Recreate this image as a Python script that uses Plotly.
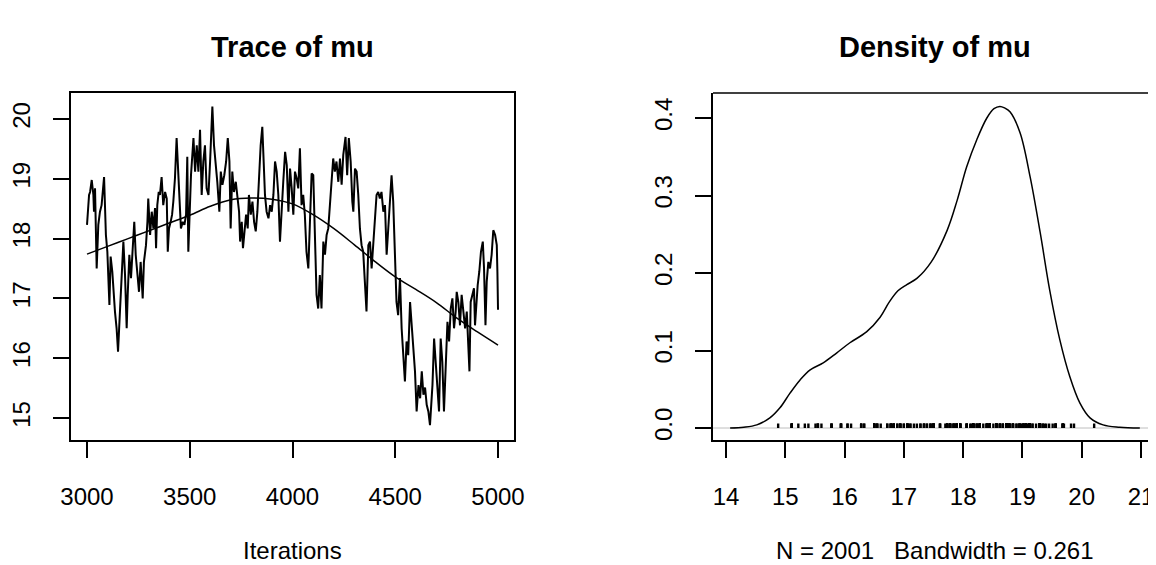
import plotly.graph_objects as go

# ---- Trace of mu ----
iterations = [
    3000, 3010, 3015, 3023, 3031, 3034, 3039, 3047, 3055, 3063, 3071, 3083, 3092, 3099, 3109, 3115,
    3123, 3130, 3136, 3144, 3151, 3161, 3169, 3177, 3185, 3193, 3198, 3206, 3214, 3222, 3230, 3237,
    3247, 3253, 3261, 3271, 3277, 3287, 3294, 3298, 3307, 3315, 3323, 3331, 3336, 3342, 3349, 3355,
    3363, 3371, 3380, 3388, 3393, 3399, 3407, 3414, 3420, 3428, 3436, 3443, 3449, 3457, 3466, 3474,
    3482, 3488,
    3493, 3506, 3518, 3526, 3534, 3542, 3550, 3558, 3566, 3574, 3582, 3591, 3599, 3610, 3618, 3626,
    3634, 3644, 3651, 3659, 3668, 3677, 3685, 3693, 3699, 3707, 3715, 3724, 3732, 3740, 3745, 3753,
    3759, 3766, 3774, 3782, 3788, 3797, 3805, 3813, 3821, 3829, 3837, 3845, 3853, 3860, 3866, 3874,
    3883, 3891, 3899, 3907, 3915, 3923, 3931, 3939, 3947, 3955, 3964, 3972, 3980, 3988, 3996, 4004,
    4012, 4020, 4028,
    4036, 4044, 4052, 4060, 4068, 4077, 4085, 4093, 4101, 4109, 4117, 4125, 4133, 4141, 4150, 4158,
    4166, 4174, 4182, 4190, 4198, 4206, 4214, 4223, 4231, 4239, 4247, 4258, 4266, 4274, 4283, 4291,
    4296, 4304, 4312, 4320, 4328, 4336, 4344, 4352, 4360, 4369, 4377, 4385, 4393, 4401, 4409, 4417,
    4425, 4433, 4442, 4450, 4458, 4466, 4474, 4482, 4490, 4498, 4506, 4514, 4523, 4531, 4539, 4547,
    4555, 4563,
    4572, 4580, 4588, 4596, 4604, 4613, 4621, 4629, 4637, 4645, 4653, 4661, 4669, 4674, 4681, 4689,
    4697, 4705, 4713, 4721, 4729, 4737, 4746, 4754, 4762, 4770, 4778, 4786, 4794, 4799, 4807, 4815,
    4823, 4832, 4840, 4848, 4856, 4861, 4867, 4875, 4883, 4888, 4893, 4901, 4909, 4917, 4926, 4932,
    4939, 4945, 4953, 4961, 4969, 4977, 4986, 4994, 4997, 5000,
]
mu = [
    18.23, 18.73, 18.78, 18.98, 18.73, 18.45, 18.84, 17.50, 18.23, 18.45, 18.56, 19.03, 18.06, 17.78, 16.89, 17.70,
    17.45, 17.06, 16.78, 16.50, 16.11, 16.83, 17.50, 17.95, 17.39, 16.50, 17.06, 17.73, 17.34, 17.89, 18.28, 17.73,
    17.34, 17.11, 17.61, 17.00, 17.61, 17.89, 18.28, 18.67, 18.06, 18.45, 18.17, 18.51, 17.84, 18.56, 18.78, 18.73,
    19.03, 18.56, 18.78, 18.67, 17.78, 18.17, 18.28, 18.40, 18.62, 19.01, 19.68, 19.12, 18.56, 18.17, 18.28, 18.23,
    18.40, 19.37,
    17.78, 19.06, 19.68, 19.12, 19.56, 19.12, 19.82, 18.73, 19.29, 19.56, 18.84, 18.73, 19.29, 20.21, 19.56, 19.29,
    18.95, 18.45, 19.12, 18.90, 19.06, 19.29, 19.68, 19.29, 18.17, 19.12, 18.78, 18.95, 18.73, 18.45, 17.95, 18.28,
    17.84, 18.17, 18.40, 18.17, 18.73, 18.40, 18.62, 18.28, 18.12, 18.45, 19.01, 19.56, 19.87, 19.29, 18.73, 18.45,
    18.34, 18.56, 18.45, 18.73, 19.29, 19.12, 18.73, 17.95, 18.56, 18.95, 19.45, 19.23, 18.45, 19.17, 18.84, 18.40,
    19.12, 19.01, 18.84,
    19.51, 18.56, 18.73, 18.40, 17.78, 17.50, 18.45, 19.09, 19.06, 17.84, 17.06, 16.83, 17.39, 16.83, 17.95, 17.73,
    18.06, 18.17, 18.56, 18.84, 19.34, 19.12, 19.29, 18.95, 19.34, 18.90, 19.40, 19.70, 19.06, 19.68, 19.29, 18.62,
    18.45, 19.17, 19.12, 18.73, 18.17, 17.89, 17.78, 17.28, 16.78, 17.89, 17.95, 17.50, 17.89, 18.28, 18.73, 18.78,
    18.67, 18.78, 18.45, 18.56, 17.73, 18.17, 18.73, 19.06, 18.62, 17.84, 16.94, 16.72, 17.34, 16.50, 15.94, 15.61,
    16.28, 16.05,
    16.94, 16.50, 16.05, 15.78, 15.11, 15.55, 15.33, 15.78, 15.39, 15.51, 15.22, 15.11, 14.88, 15.11, 15.55, 16.33,
    15.94, 15.55, 15.11, 16.33, 15.94, 15.11, 15.94, 16.61, 16.28, 16.83, 17.00, 16.50, 16.78, 17.11, 16.94, 16.55,
    17.06, 16.72, 16.50, 16.78, 16.28, 15.78, 16.94, 17.06, 17.17, 16.55, 16.89, 17.22, 17.45, 17.78, 17.95, 17.50,
    16.55, 17.28, 17.61, 17.50, 17.73, 18.14, 18.06, 17.89, 17.45, 16.81,
]

# smoothed (lowess) line
smooth_iter = [3000, 3100, 3200, 3300, 3400, 3500, 3600, 3700, 3800, 3900, 4000,
               4100, 4200, 4300, 4400, 4500, 4600, 4700, 4800, 4900, 5000]
smooth_mu = [17.74, 17.87, 18.00, 18.13, 18.26, 18.39, 18.54, 18.65, 18.68, 18.66, 18.58,
             18.40, 18.17, 17.90, 17.62, 17.36, 17.15, 16.93, 16.67, 16.44, 16.22]

# ---- Density of mu ----
dens_x = [14.07, 14.30, 14.52, 14.74, 14.91, 15.08, 15.25, 15.42, 15.64, 15.87, 16.09, 16.37,
          16.60, 16.75, 16.90, 17.05, 17.22, 17.46, 17.73, 17.90, 18.06, 18.23, 18.40, 18.52,
          18.62, 18.70, 18.79, 18.96, 19.13, 19.30, 19.46, 19.63, 19.80, 19.97, 20.14, 20.36,
          20.64, 20.98]
dens_y = [0.000, 0.001, 0.004, 0.013, 0.026, 0.045, 0.062, 0.075, 0.084, 0.097, 0.110, 0.124,
          0.143, 0.162, 0.177, 0.185, 0.193, 0.214, 0.255, 0.294, 0.337, 0.372, 0.400, 0.412,
          0.415, 0.413, 0.408, 0.381, 0.324, 0.252, 0.178, 0.114, 0.066, 0.032, 0.013, 0.004,
          0.001, 0.000]

trace_xticks = [3000, 3500, 4000, 4500, 5000]
trace_yticks = [15, 16, 17, 18, 19, 20]
dens_xticks = [14, 15, 16, 17, 18, 19, 20, 21]
dens_yticks = [0.0, 0.1, 0.2, 0.3, 0.4]
dens_ytext = ["0.0", "0.1", "0.2", "0.3", "0.4"]

title_left = "Trace of mu"
title_right = "Density of mu"
xlab_left = "Iterations"
xlab_right = "N = 2001   Bandwidth = 0.261"

FONT = "Liberation Sans, Arial, Helvetica, sans-serif"
LW = 1.5

fig = go.Figure()

fig.add_trace(go.Scatter(x=iterations, y=mu, mode="lines",
                         line=dict(color="black", width=2), xaxis="x", yaxis="y",
                         showlegend=False, hoverinfo="skip"))
fig.add_trace(go.Scatter(x=smooth_iter, y=smooth_mu, mode="lines", line_shape="spline",
                         line=dict(color="black", width=LW), xaxis="x", yaxis="y",
                         showlegend=False, hoverinfo="skip"))

# rug of observations
rug_h = max(dens_y) / 100.0
rx, ry = [], []
for v in mu:
    rx += [v, v, None]
    ry += [0, rug_h * 1.4, None]
fig.add_trace(go.Scatter(x=rx, y=ry, mode="lines", line=dict(color="black", width=2.4),
                         xaxis="x2", yaxis="y2", showlegend=False, hoverinfo="skip"))

fig.add_trace(go.Scatter(x=dens_x, y=dens_y, mode="lines", line_shape="spline",
                         line=dict(color="black", width=LW), xaxis="x2", yaxis="y2",
                         showlegend=False, hoverinfo="skip"))

# the page body has an 8px default margin: the figure starts at (8, 8) in the window
OFF = 8
WIN_W, WIN_H = 1156, 565
W, H = WIN_W - OFF, WIN_H - OFF
L, R, T, B = 71 - OFF, 0, 93 - OFF, 125
pw = W - L - R
ph = H - T - B

axis_common = dict(showgrid=False, zeroline=False, showline=True, linecolor="black",
                   linewidth=LW, ticks="outside", ticklen=16, tickwidth=LW, tickcolor="black",
                   automargin=False,
                   tickfont=dict(family=FONT, size=24, color="black"))


def ypix(win_y):
    return (H - B - (win_y - OFF)) / ph


fig.update_layout(
    template="none",
    width=W, height=H,
    margin=dict(l=L, r=R, t=T, b=B, pad=0, autoexpand=False),
    paper_bgcolor="white", plot_bgcolor="white",
    xaxis=dict(domain=[0, (514 - OFF - L) / pw], range=[2922.1, 5077.8], tickvals=trace_xticks,
               mirror=True, ticklabelstandoff=18, anchor="y", **axis_common),
    yaxis=dict(domain=[0, 1], range=[14.632, 20.435], tickvals=trace_yticks, tickangle=-90,
               mirror=True, ticklabelstandoff=14, anchor="x", **axis_common),
    xaxis2=dict(domain=[(713 - OFF - L) / pw, 1], range=[13.781, 21.253], tickvals=dens_xticks,
                ticklabelstandoff=18, anchor="y2", **axis_common),
    yaxis2=dict(domain=[0, 1], range=[-0.01548, 0.43226], tickvals=dens_yticks,
                ticktext=dens_ytext, tickangle=-90, ticklabelstandoff=14, anchor="x2",
                **axis_common),
    shapes=[
        dict(type="line", xref="x2 domain", yref="y2 domain", x0=0, x1=1.01, y0=1, y1=1,
             line=dict(color="black", width=LW)),
        dict(type="line", xref="x2 domain", yref="y2", x0=0, x1=1, y0=0, y1=0,
             line=dict(color="#bebebe", width=1), layer="below"),
    ],
    annotations=[
        dict(text="<b>" + title_left + "</b>", xref="x domain", yref="paper", x=0.5,
             y=ypix(47), xanchor="center", yanchor="middle",
             showarrow=False, font=dict(family=FONT, size=29, color="black")),
        dict(text="<b>" + title_right + "</b>", xref="x2", yref="paper", x=17.53,
             y=ypix(47), xanchor="center", yanchor="middle",
             showarrow=False, font=dict(family=FONT, size=29, color="black")),
        dict(text=xlab_left, xref="x domain", yref="paper", x=0.5,
             y=ypix(550), xanchor="center", yanchor="middle",
             showarrow=False, font=dict(family=FONT, size=24, color="black")),
        dict(text=xlab_right, xref="x2", yref="paper", x=17.53,
             y=ypix(550), xanchor="center", yanchor="middle",
             showarrow=False, font=dict(family=FONT, size=24, color="black")),
    ],
)

fig.write_html(
    "out.html",
    post_script="document.documentElement.style.overflow='hidden';"
                "document.body.style.overflow='hidden';",
)
